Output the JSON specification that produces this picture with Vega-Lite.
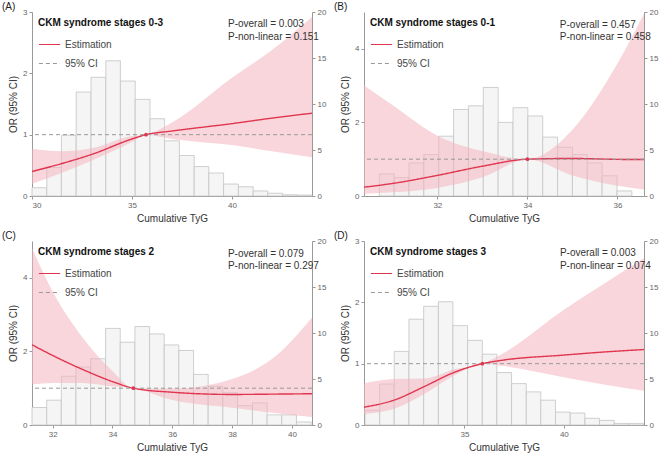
{
"$schema":"https://vega.github.io/schema/vega-lite/v6.json",
"padding":{"left":2,"right":2,"top":2,"bottom":2},
"resolve":{"scale":{"color":"independent","strokeDash":"independent"}},
"config":{"font":"Liberation Sans","view":{"stroke":null},
 "axis":{"grid":false,"domainColor":"#999","tickColor":"#999","labelColor":"#666","labelFontSize":8,"titleFontSize":10,"titleColor":"#333","titleFontWeight":"normal","tickSize":3,"format":"d"},
 "legend":{"titleFontSize":10,"titleColor":"#111","titleFontWeight":"bold","labelFontSize":10,"labelColor":"#444","symbolType":"stroke","symbolSize":450,"symbolStrokeWidth":1.2,"rowPadding":2,"padding":0,"offset":6,"titleLimit":300},
 "title":{"anchor":"start","frame":"group","fontSize":10,"fontWeight":"normal","color":"#222","dx":-30,"offset":-4},
 "concat":{"spacing":8}},
"datasets":{
"bars":[
{"p":"A","x0":30,"x1":30.74,"n":0.9},{"p":"A","x0":30.74,"x1":31.47,"n":3.1},{"p":"A","x0":31.47,"x1":32.21,"n":6.6},{"p":"A","x0":32.21,"x1":32.95,"n":11.3},{"p":"A","x0":32.95,"x1":33.69,"n":12.9},{"p":"A","x0":33.69,"x1":34.42,"n":14.7},{"p":"A","x0":34.42,"x1":35.16,"n":12.5},{"p":"A","x0":35.16,"x1":35.9,"n":10.5},{"p":"A","x0":35.9,"x1":36.63,"n":8.4},{"p":"A","x0":36.63,"x1":37.37,"n":6.0},{"p":"A","x0":37.37,"x1":38.11,"n":4.4},{"p":"A","x0":38.11,"x1":38.84,"n":3.2},{"p":"A","x0":38.84,"x1":39.58,"n":2.5},{"p":"A","x0":39.58,"x1":40.32,"n":1.3},{"p":"A","x0":40.32,"x1":41.06,"n":1.0},{"p":"A","x0":41.06,"x1":41.79,"n":0.55},{"p":"A","x0":41.79,"x1":42.53,"n":0.3},{"p":"A","x0":42.53,"x1":43.27,"n":0.13},{"p":"A","x0":43.27,"x1":44,"n":0.1},
{"p":"B","x0":30.71,"x1":31.04,"n":2.4},{"p":"B","x0":31.04,"x1":31.37,"n":2.0},{"p":"B","x0":31.37,"x1":31.7,"n":3.6},{"p":"B","x0":31.7,"x1":32.03,"n":4.5},{"p":"B","x0":32.03,"x1":32.36,"n":6.5},{"p":"B","x0":32.36,"x1":32.69,"n":9.4},{"p":"B","x0":32.69,"x1":33.02,"n":9.8},{"p":"B","x0":33.02,"x1":33.35,"n":11.8},{"p":"B","x0":33.35,"x1":33.68,"n":8.0},{"p":"B","x0":33.68,"x1":34.01,"n":9.6},{"p":"B","x0":34.01,"x1":34.34,"n":8.7},{"p":"B","x0":34.34,"x1":34.67,"n":6.4},{"p":"B","x0":34.67,"x1":35.0,"n":5.3},{"p":"B","x0":35.0,"x1":35.33,"n":4.5},{"p":"B","x0":35.33,"x1":35.66,"n":3.6},{"p":"B","x0":35.66,"x1":35.99,"n":2.2},{"p":"B","x0":35.99,"x1":36.32,"n":0.55},
{"p":"C","x0":31.31,"x1":31.8,"n":1.9},{"p":"C","x0":31.8,"x1":32.29,"n":2.7},{"p":"C","x0":32.29,"x1":32.78,"n":5.3},{"p":"C","x0":32.78,"x1":33.27,"n":6.3},{"p":"C","x0":33.27,"x1":33.77,"n":7.2},{"p":"C","x0":33.77,"x1":34.26,"n":10.5},{"p":"C","x0":34.26,"x1":34.75,"n":9.0},{"p":"C","x0":34.75,"x1":35.24,"n":10.7},{"p":"C","x0":35.24,"x1":35.73,"n":9.9},{"p":"C","x0":35.73,"x1":36.22,"n":8.7},{"p":"C","x0":36.22,"x1":36.71,"n":8.1},{"p":"C","x0":36.71,"x1":37.2,"n":5.5},{"p":"C","x0":37.2,"x1":37.69,"n":4.2},{"p":"C","x0":37.69,"x1":38.18,"n":3.5},{"p":"C","x0":38.18,"x1":38.68,"n":2.1},{"p":"C","x0":38.68,"x1":39.17,"n":2.4},{"p":"C","x0":39.17,"x1":39.66,"n":1.1},{"p":"C","x0":39.66,"x1":40.15,"n":1.1},{"p":"C","x0":40.15,"x1":40.64,"n":0.33},
{"p":"D","x0":30,"x1":30.74,"n":1.6},{"p":"D","x0":30.74,"x1":31.47,"n":4.45},{"p":"D","x0":31.47,"x1":32.21,"n":8.0},{"p":"D","x0":32.21,"x1":32.95,"n":11.5},{"p":"D","x0":32.95,"x1":33.69,"n":12.9},{"p":"D","x0":33.69,"x1":34.42,"n":13.4},{"p":"D","x0":34.42,"x1":35.16,"n":10.8},{"p":"D","x0":35.16,"x1":35.9,"n":9.2},{"p":"D","x0":35.9,"x1":36.63,"n":7.7},{"p":"D","x0":36.63,"x1":37.37,"n":5.7},{"p":"D","x0":37.37,"x1":38.11,"n":4.5},{"p":"D","x0":38.11,"x1":38.84,"n":3.6},{"p":"D","x0":38.84,"x1":39.58,"n":2.7},{"p":"D","x0":39.58,"x1":40.32,"n":1.4},{"p":"D","x0":40.32,"x1":41.06,"n":1.3},{"p":"D","x0":41.06,"x1":41.79,"n":0.73},{"p":"D","x0":41.79,"x1":42.53,"n":0.5},{"p":"D","x0":42.53,"x1":43.27,"n":0.17},{"p":"D","x0":43.27,"x1":44,"n":0.17}
],
"curve":[
{"p":"A","x":30,"or":0.40,"lo":0.20,"hi":0.77},{"p":"A","x":31.5,"or":0.53,"lo":0.38,"hi":0.73},{"p":"A","x":33,"or":0.68,"lo":0.58,"hi":0.78},{"p":"A","x":35,"or":0.93,"lo":0.88,"hi":0.98},{"p":"A","x":35.7,"or":1,"lo":1,"hi":1},{"p":"A","x":37,"or":1.06,"lo":0.93,"hi":1.2},{"p":"A","x":40,"or":1.18,"lo":0.83,"hi":1.93},{"p":"A","x":42,"or":1.27,"lo":0.73,"hi":2.38},{"p":"A","x":44,"or":1.35,"lo":0.63,"hi":2.92},
{"p":"B","x":30.37,"or":0.24,"lo":0.06,"hi":3.0},{"p":"B","x":31,"or":0.34,"lo":0.1,"hi":2.47},{"p":"B","x":32,"or":0.56,"lo":0.22,"hi":1.64},{"p":"B","x":33,"or":0.81,"lo":0.51,"hi":1.22},{"p":"B","x":34,"or":1,"lo":1,"hi":1},{"p":"B","x":35,"or":1.02,"lo":0.56,"hi":1.8},{"p":"B","x":36,"or":0.995,"lo":0.28,"hi":3.6},{"p":"B","x":36.59,"or":0.99,"lo":0.18,"hi":4.95},
{"p":"C","x":31.31,"or":2.18,"lo":1.1,"hi":4.8},{"p":"C","x":32,"or":1.89,"lo":1.14,"hi":3.63},{"p":"C","x":33,"or":1.51,"lo":1.14,"hi":2.38},{"p":"C","x":34,"or":1.18,"lo":1.05,"hi":1.47},{"p":"C","x":34.7,"or":1,"lo":1,"hi":1},{"p":"C","x":36,"or":0.89,"lo":0.68,"hi":0.99},{"p":"C","x":38,"or":0.83,"lo":0.47,"hi":1.25},{"p":"C","x":39.5,"or":0.84,"lo":0.32,"hi":1.9},{"p":"C","x":40.67,"or":0.85,"lo":0.22,"hi":2.92},
{"p":"D","x":29.95,"or":0.29,"lo":0.18,"hi":0.68},{"p":"D","x":31.5,"or":0.41,"lo":0.27,"hi":0.75},{"p":"D","x":33,"or":0.63,"lo":0.51,"hi":0.76},{"p":"D","x":34.5,"or":0.86,"lo":0.81,"hi":0.91},{"p":"D","x":35.9,"or":1,"lo":1,"hi":1},{"p":"D","x":37,"or":1.06,"lo":0.96,"hi":1.18},{"p":"D","x":40,"or":1.14,"lo":0.78,"hi":1.88},{"p":"D","x":42,"or":1.19,"lo":0.66,"hi":2.3},{"p":"D","x":44.03,"or":1.23,"lo":0.56,"hi":2.72}
],
"ann":[
{"p":"A","x":39.8,"y":2.8,"t":"P-overall = 0.003"},{"p":"A","x":39.8,"y":2.6,"t":"P-non-linear = 0.151"},
{"p":"B","x":34.72,"y":4.66,"t":"P-overall = 0.457"},{"p":"B","x":34.72,"y":4.33,"t":"P-non-linear = 0.458"},
{"p":"C","x":37.86,"y":4.66,"t":"P-overall = 0.079"},{"p":"C","x":37.86,"y":4.33,"t":"P-non-linear = 0.297"},
{"p":"D","x":39.8,"y":2.8,"t":"P-overall = 0.003"},{"p":"D","x":39.8,"y":2.6,"t":"P-non-linear = 0.074"}
]},
"vconcat":[
{"resolve":{"scale":{"color":"independent","strokeDash":"independent"}},"hconcat":[
{"title":"(A)","width":280,"height":184,"resolve":{"scale":{"y":"independent"}},
 "layer":[
  {"data":{"name":"bars"},"transform":[{"filter":"datum.p=='A'"}],"mark":{"type":"rect","fill":"#f5f5f5","stroke":"#c4c4c4","strokeWidth":0.8},
   "encoding":{"x":{"field":"x0","type":"quantitative","scale":{"domain":[30,44],"nice":false,"zero":false},"axis":{"values":[30,35,40],"title":"Cumulative TyG"}},"x2":{"field":"x1"},
    "y":{"field":"n","type":"quantitative","scale":{"domain":[0,20]},"axis":{"orient":"right","values":[0,5,10,15,20],"title":null}}}},
  {"layer":[
   {"data":{"name":"curve"},"transform":[{"filter":"datum.p=='A'"}],"mark":{"type":"area","color":"#f3b5be","opacity":0.55,"interpolate":"monotone","clip":true},
    "encoding":{"x":{"field":"x","type":"quantitative"},"y":{"field":"lo","type":"quantitative","scale":{"domain":[0,3]},"axis":{"orient":"left","values":[0,1,2,3],"title":"OR (95% CI)"}},"y2":{"field":"hi"}}},
   {"data":{"name":"curve"},"transform":[{"filter":"datum.p=='A'"}],"mark":{"type":"line","interpolate":"monotone","strokeWidth":1.4},
    "encoding":{"x":{"field":"x","type":"quantitative"},"y":{"field":"or","type":"quantitative"},
     "color":{"datum":"Estimation","scale":{"domain":["Estimation","95% CI"],"range":["#e0354f","#999999"]},"legend":{"title":"CKM syndrome stages 0-3","orient":"top-left"}},
     "strokeDash":{"datum":"Estimation","scale":{"domain":["Estimation","95% CI"],"range":[[1,0],[4,3]]},"legend":{"title":"CKM syndrome stages 0-3","orient":"top-left"}}}},
   {"data":{"values":[{}]},"mark":{"type":"rule","strokeWidth":1},"encoding":{"y":{"datum":1},"color":{"datum":"95% CI"},"strokeDash":{"datum":"95% CI"}}},
   {"data":{"name":"curve"},"transform":[{"filter":"datum.p=='A' && datum.or==1"}],"mark":{"type":"point","filled":true,"size":14,"color":"#e0354f","opacity":1},
    "encoding":{"x":{"field":"x","type":"quantitative"},"y":{"field":"or","type":"quantitative"}}},
   {"data":{"name":"ann"},"transform":[{"filter":"datum.p=='A'"}],"mark":{"type":"text","align":"left","baseline":"middle","fontSize":10,"color":"#333"},
    "encoding":{"x":{"field":"x","type":"quantitative"},"y":{"field":"y","type":"quantitative"},"text":{"field":"t"}}}
  ]}
 ]},
{"title":"(B)","width":280,"height":184,"resolve":{"scale":{"y":"independent"}},
 "layer":[
  {"data":{"name":"bars"},"transform":[{"filter":"datum.p=='B'"}],"mark":{"type":"rect","fill":"#f5f5f5","stroke":"#c4c4c4","strokeWidth":0.8},
   "encoding":{"x":{"field":"x0","type":"quantitative","scale":{"domain":[30.37,36.59],"nice":false,"zero":false},"axis":{"values":[32,34,36],"title":"Cumulative TyG"}},"x2":{"field":"x1"},
    "y":{"field":"n","type":"quantitative","scale":{"domain":[0,20]},"axis":{"orient":"right","values":[0,5,10,15,20],"title":null}}}},
  {"layer":[
   {"data":{"name":"curve"},"transform":[{"filter":"datum.p=='B'"}],"mark":{"type":"area","color":"#f3b5be","opacity":0.55,"interpolate":"monotone","clip":true},
    "encoding":{"x":{"field":"x","type":"quantitative"},"y":{"field":"lo","type":"quantitative","scale":{"domain":[0,5]},"axis":{"orient":"left","values":[0,1,2,3,4,5],"title":"OR (95% CI)"}},"y2":{"field":"hi"}}},
   {"data":{"name":"curve"},"transform":[{"filter":"datum.p=='B'"}],"mark":{"type":"line","interpolate":"monotone","strokeWidth":1.4},
    "encoding":{"x":{"field":"x","type":"quantitative"},"y":{"field":"or","type":"quantitative"},
     "color":{"datum":"Estimation","scale":{"domain":["Estimation","95% CI"],"range":["#e0354f","#999999"]},"legend":{"title":"CKM syndrome stages 0-1","orient":"top-left"}},
     "strokeDash":{"datum":"Estimation","scale":{"domain":["Estimation","95% CI"],"range":[[1,0],[4,3]]},"legend":{"title":"CKM syndrome stages 0-1","orient":"top-left"}}}},
   {"data":{"values":[{}]},"mark":{"type":"rule","strokeWidth":1},"encoding":{"y":{"datum":1},"color":{"datum":"95% CI"},"strokeDash":{"datum":"95% CI"}}},
   {"data":{"name":"curve"},"transform":[{"filter":"datum.p=='B' && datum.or==1"}],"mark":{"type":"point","filled":true,"size":14,"color":"#e0354f","opacity":1},
    "encoding":{"x":{"field":"x","type":"quantitative"},"y":{"field":"or","type":"quantitative"}}},
   {"data":{"name":"ann"},"transform":[{"filter":"datum.p=='B'"}],"mark":{"type":"text","align":"left","baseline":"middle","fontSize":10,"color":"#333"},
    "encoding":{"x":{"field":"x","type":"quantitative"},"y":{"field":"y","type":"quantitative"},"text":{"field":"t"}}}
  ]}
 ]}
]},
{"resolve":{"scale":{"color":"independent","strokeDash":"independent"}},"hconcat":[
{"title":"(C)","width":280,"height":184,"resolve":{"scale":{"y":"independent"}},
 "layer":[
  {"data":{"name":"bars"},"transform":[{"filter":"datum.p=='C'"}],"mark":{"type":"rect","fill":"#f5f5f5","stroke":"#c4c4c4","strokeWidth":0.8},
   "encoding":{"x":{"field":"x0","type":"quantitative","scale":{"domain":[31.31,40.67],"nice":false,"zero":false},"axis":{"values":[32,34,36,38,40],"title":"Cumulative TyG"}},"x2":{"field":"x1"},
    "y":{"field":"n","type":"quantitative","scale":{"domain":[0,20]},"axis":{"orient":"right","values":[0,5,10,15,20],"title":null}}}},
  {"layer":[
   {"data":{"name":"curve"},"transform":[{"filter":"datum.p=='C'"}],"mark":{"type":"area","color":"#f3b5be","opacity":0.55,"interpolate":"monotone","clip":true},
    "encoding":{"x":{"field":"x","type":"quantitative"},"y":{"field":"lo","type":"quantitative","scale":{"domain":[0,5]},"axis":{"orient":"left","values":[0,1,2,3,4,5],"title":"OR (95% CI)"}},"y2":{"field":"hi"}}},
   {"data":{"name":"curve"},"transform":[{"filter":"datum.p=='C'"}],"mark":{"type":"line","interpolate":"monotone","strokeWidth":1.4},
    "encoding":{"x":{"field":"x","type":"quantitative"},"y":{"field":"or","type":"quantitative"},
     "color":{"datum":"Estimation","scale":{"domain":["Estimation","95% CI"],"range":["#e0354f","#999999"]},"legend":{"title":"CKM syndrome stages 2","orient":"top-left"}},
     "strokeDash":{"datum":"Estimation","scale":{"domain":["Estimation","95% CI"],"range":[[1,0],[4,3]]},"legend":{"title":"CKM syndrome stages 2","orient":"top-left"}}}},
   {"data":{"values":[{}]},"mark":{"type":"rule","strokeWidth":1},"encoding":{"y":{"datum":1},"color":{"datum":"95% CI"},"strokeDash":{"datum":"95% CI"}}},
   {"data":{"name":"curve"},"transform":[{"filter":"datum.p=='C' && datum.or==1"}],"mark":{"type":"point","filled":true,"size":14,"color":"#e0354f","opacity":1},
    "encoding":{"x":{"field":"x","type":"quantitative"},"y":{"field":"or","type":"quantitative"}}},
   {"data":{"name":"ann"},"transform":[{"filter":"datum.p=='C'"}],"mark":{"type":"text","align":"left","baseline":"middle","fontSize":10,"color":"#333"},
    "encoding":{"x":{"field":"x","type":"quantitative"},"y":{"field":"y","type":"quantitative"},"text":{"field":"t"}}}
  ]}
 ]},
{"title":"(D)","width":280,"height":184,"resolve":{"scale":{"y":"independent"}},
 "layer":[
  {"data":{"name":"bars"},"transform":[{"filter":"datum.p=='D'"}],"mark":{"type":"rect","fill":"#f5f5f5","stroke":"#c4c4c4","strokeWidth":0.8},
   "encoding":{"x":{"field":"x0","type":"quantitative","scale":{"domain":[29.95,44.03],"nice":false,"zero":false},"axis":{"values":[35,40],"title":"Cumulative TyG"}},"x2":{"field":"x1"},
    "y":{"field":"n","type":"quantitative","scale":{"domain":[0,20]},"axis":{"orient":"right","values":[0,5,10,15,20],"title":null}}}},
  {"layer":[
   {"data":{"name":"curve"},"transform":[{"filter":"datum.p=='D'"}],"mark":{"type":"area","color":"#f3b5be","opacity":0.55,"interpolate":"monotone","clip":true},
    "encoding":{"x":{"field":"x","type":"quantitative"},"y":{"field":"lo","type":"quantitative","scale":{"domain":[0,3]},"axis":{"orient":"left","values":[0,1,2,3],"title":"OR (95% CI)"}},"y2":{"field":"hi"}}},
   {"data":{"name":"curve"},"transform":[{"filter":"datum.p=='D'"}],"mark":{"type":"line","interpolate":"monotone","strokeWidth":1.4},
    "encoding":{"x":{"field":"x","type":"quantitative"},"y":{"field":"or","type":"quantitative"},
     "color":{"datum":"Estimation","scale":{"domain":["Estimation","95% CI"],"range":["#e0354f","#999999"]},"legend":{"title":"CKM syndrome stages 3","orient":"top-left"}},
     "strokeDash":{"datum":"Estimation","scale":{"domain":["Estimation","95% CI"],"range":[[1,0],[4,3]]},"legend":{"title":"CKM syndrome stages 3","orient":"top-left"}}}},
   {"data":{"values":[{}]},"mark":{"type":"rule","strokeWidth":1},"encoding":{"y":{"datum":1},"color":{"datum":"95% CI"},"strokeDash":{"datum":"95% CI"}}},
   {"data":{"name":"curve"},"transform":[{"filter":"datum.p=='D' && datum.or==1"}],"mark":{"type":"point","filled":true,"size":14,"color":"#e0354f","opacity":1},
    "encoding":{"x":{"field":"x","type":"quantitative"},"y":{"field":"or","type":"quantitative"}}},
   {"data":{"name":"ann"},"transform":[{"filter":"datum.p=='D'"}],"mark":{"type":"text","align":"left","baseline":"middle","fontSize":10,"color":"#333"},
    "encoding":{"x":{"field":"x","type":"quantitative"},"y":{"field":"y","type":"quantitative"},"text":{"field":"t"}}}
  ]}
 ]}
]}
]}
